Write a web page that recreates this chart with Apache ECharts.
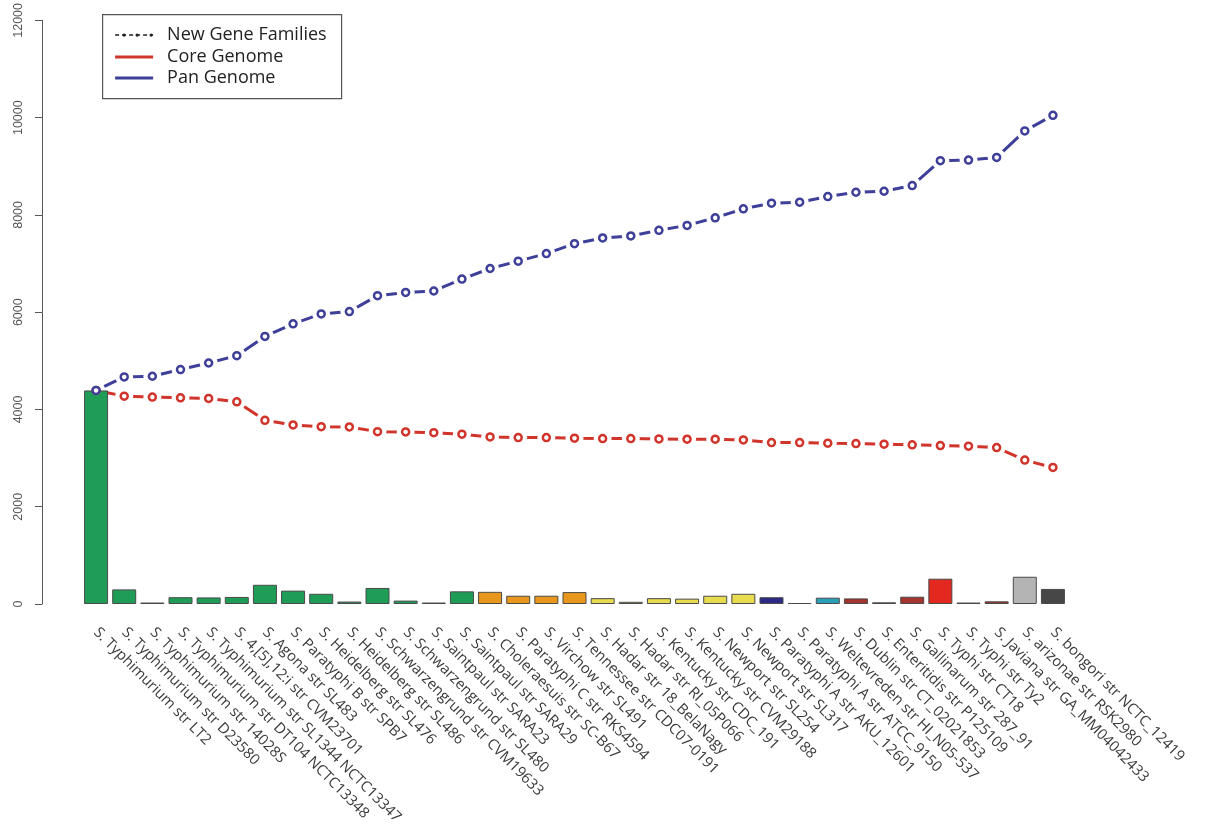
<!DOCTYPE html>
<html>
<head>
<meta charset="utf-8">
<script src="https://cdn.jsdelivr.net/npm/echarts@6/dist/echarts.min.js"></script>
<style>
html,body{margin:0;padding:0;background:#fff;}
#chart{width:1205px;height:830px;}
</style>
</head>
<body>
<div id="chart"></div>
<script>
const categories = [
  "S. Typhimurium str LT2",
  "S. Typhimurium str D23580",
  "S. Typhimurium str 14028S",
  "S. Typhimurium str DT104 NCTC13348",
  "S. Typhimurium str SL1344 NCTC13347",
  "S. 4,[5],12:i str CVM23701",
  "S. Agona str SL483",
  "S. Paratyphi B str SPB7",
  "S. Heidelberg str SL476",
  "S. Heidelberg str SL486",
  "S. Schwarzengrund str CVM19633",
  "S. Schwarzengrund str SL480",
  "S. Saintpaul str SARA23",
  "S. Saintpaul str SARA29",
  "S. Choleraesuis str SC-B67",
  "S. Paratyphi C str RKS4594",
  "S. Virchow str SL491",
  "S. Tennessee str CDC07-0191",
  "S. Hadar str 18_BelaNagy",
  "S. Hadar str RI_05P066",
  "S. Kentucky str CDC_191",
  "S. Kentucky str CVM29188",
  "S. Newport str SL254",
  "S. Newport str SL317",
  "S. Paratyphi A str AKU_12601",
  "S. Paratyphi A str ATCC_9150",
  "S. Weltevreden str HI_N05-537",
  "S. Dublin str CT_02021853",
  "S. Enteritidis str P125109",
  "S. Gallinarum str 287_91",
  "S. Typhi str CT18",
  "S. Typhi str Ty2",
  "S. Javiana str GA_MM04042433",
  "S. arizonae str RSK2980",
  "S. bongori str NCTC_12419"
];

const newGeneFamilies = [4391, 300, 30, 140, 135, 145, 395, 275, 210, 50, 330, 70, 30, 260, 250, 170, 170, 245, 120, 45, 120, 110, 170, 210, 140, 20, 130, 115, 35, 150, 520, 30, 55, 560, 310];

const coreGenome = [4391, 4274, 4254, 4239, 4227, 4157, 3777, 3681, 3646, 3640, 3544, 3538, 3523, 3491, 3436, 3421, 3421, 3409, 3401, 3401, 3395, 3388, 3388, 3374, 3319, 3319, 3307, 3299, 3286, 3272, 3258, 3245, 3217, 2959, 2808];

const panGenome = [4391, 4669, 4683, 4820, 4955, 5106, 5501, 5761, 5965, 6012, 6340, 6407, 6436, 6681, 6898, 7049, 7205, 7409, 7526, 7567, 7683, 7785, 7941, 8125, 8241, 8262, 8378, 8466, 8487, 8603, 9115, 9127, 9182, 9728, 10047];

const seriesNames = ["New Gene Families", "Core Genome", "Pan Genome"];

const yMin = 0, yMax = 12000, yInterval = 2000;

// styles (kept separate from data)
const G = "#1f9d57", O = "#e8961c", Y = "#e7dc4e", P = "#2c2a86", T = "#2a9fb8",
      DR = "#a5342f", BR = "#e3281f", LG = "#b4b4b4", DG = "#474747";
const barColors = [G,G,G,G,G,G,G,G,G,G,G,G,G,G,O,O,O,O,Y,Y,Y,Y,Y,Y,P,P,T,DR,DR,DR,BR,BR,DR,LG,DG];
const coreColor = "#d0342b";
const panColor = "#3d3f98";

const chart = echarts.init(document.getElementById('chart'), null, {renderer: 'canvas'});

function gappedLine(name, data, color) {
  // line whose own symbols are white discs, leaving gaps around each point
  return {
    name: name,
    type: 'line', zlevel: 0, z: 1,
    data: data,
    showSymbol: true, showAllSymbol: true,
    symbol: 'circle', symbolSize: 18,
    itemStyle: {color: '#ffffff', borderWidth: 0, opacity: 1},
    lineStyle: {color: color, width: 3},
    emphasis: {disabled: true},
    silent: true
  };
}

const option = {
  animation: false,
  backgroundColor: '#fff',
  grid: {left: 82, right: 138, top: 17, bottom: 226, containLabel: false},
  xAxis: {
    type: 'category',
    data: categories,
    boundaryGap: true,
    axisLine: {show: false},
    axisTick: {show: false},
    splitLine: {show: false},
    axisLabel: {
      interval: 0,
      rotate: -45,
      margin: 26,
      fontSize: 14.8,
      fontFamily: 'Open Sans',
      color: '#3a3a3a'
    }
  },
  yAxis: {
    type: 'value',
    min: yMin, max: yMax, interval: yInterval,
    offset: 40,
    axisLine: {show: true, lineStyle: {color: '#555', width: 1}},
    axisTick: {show: true, inside: false, length: 7, lineStyle: {color: '#555'}},
    splitLine: {show: false},
    axisLabel: {
      rotate: 90,
      margin: 17,
      fontSize: 12.5,
      fontFamily: 'Liberation Sans',
      color: '#555',
      formatter: v => String(v)
    }
  },
  series: [
    gappedLine(seriesNames[1], coreGenome, coreColor),
    gappedLine(seriesNames[2], panGenome, panColor),
    {
      name: seriesNames[0],
      type: 'bar', zlevel: 1, z: 3,
      barWidth: 24,
      data: newGeneFamilies.map((v, i) => ({
        value: v,
        itemStyle: {color: barColors[i], borderColor: '#4a4a4a', borderWidth: 1}
      }))
    },
    {
      name: 'core points', type: 'scatter', zlevel: 2, z: 4,
      symbol: 'circle', symbolSize: 7,
      itemStyle: {color: '#fff', borderColor: coreColor, borderWidth: 2.5, opacity: 1},
      data: coreGenome
    },
    {
      name: 'pan points', type: 'scatter', zlevel: 2, z: 4,
      symbol: 'circle', symbolSize: 7,
      itemStyle: {color: '#fff', borderColor: panColor, borderWidth: 2.5, opacity: 1},
      data: panGenome
    }
  ],
  graphic: [
    {
      type: 'group', left: 102, top: 14, zlevel: 3, z: 100,
      children: [
        {type: 'rect', shape: {x: 0.5, y: 0.5, width: 239, height: 84},
         style: {fill: '#fff', stroke: '#555', lineWidth: 1.2}},
        {type: 'line', shape: {x1: 13, y1: 21, x2: 51, y2: 21},
         style: {stroke: '#222', lineWidth: 1.5, lineDash: [4, 3]}},
        {type: 'circle', shape: {cx: 22, cy: 21, r: 1.6}, style: {fill: '#222'}},
        {type: 'circle', shape: {cx: 35, cy: 21, r: 1.6}, style: {fill: '#222'}},
        {type: 'circle', shape: {cx: 49, cy: 21, r: 1.6}, style: {fill: '#222'}},
        {type: 'line', shape: {x1: 13, y1: 43, x2: 51, y2: 43},
         style: {stroke: coreColor, lineWidth: 3}},
        {type: 'line', shape: {x1: 13, y1: 64, x2: 51, y2: 64},
         style: {stroke: panColor, lineWidth: 3}},
        {type: 'text', x: 65, y: 21,
         style: {text: seriesNames[0], fill: '#222', font: '18px "Open Sans"', verticalAlign: 'middle'}},
        {type: 'text', x: 65, y: 43,
         style: {text: seriesNames[1], fill: '#222', font: '18px "Open Sans"', verticalAlign: 'middle'}},
        {type: 'text', x: 65, y: 64,
         style: {text: seriesNames[2], fill: '#222', font: '18px "Open Sans"', verticalAlign: 'middle'}}
      ]
    }
  ]
};

chart.setOption(option);
</script>
</body>
</html>
